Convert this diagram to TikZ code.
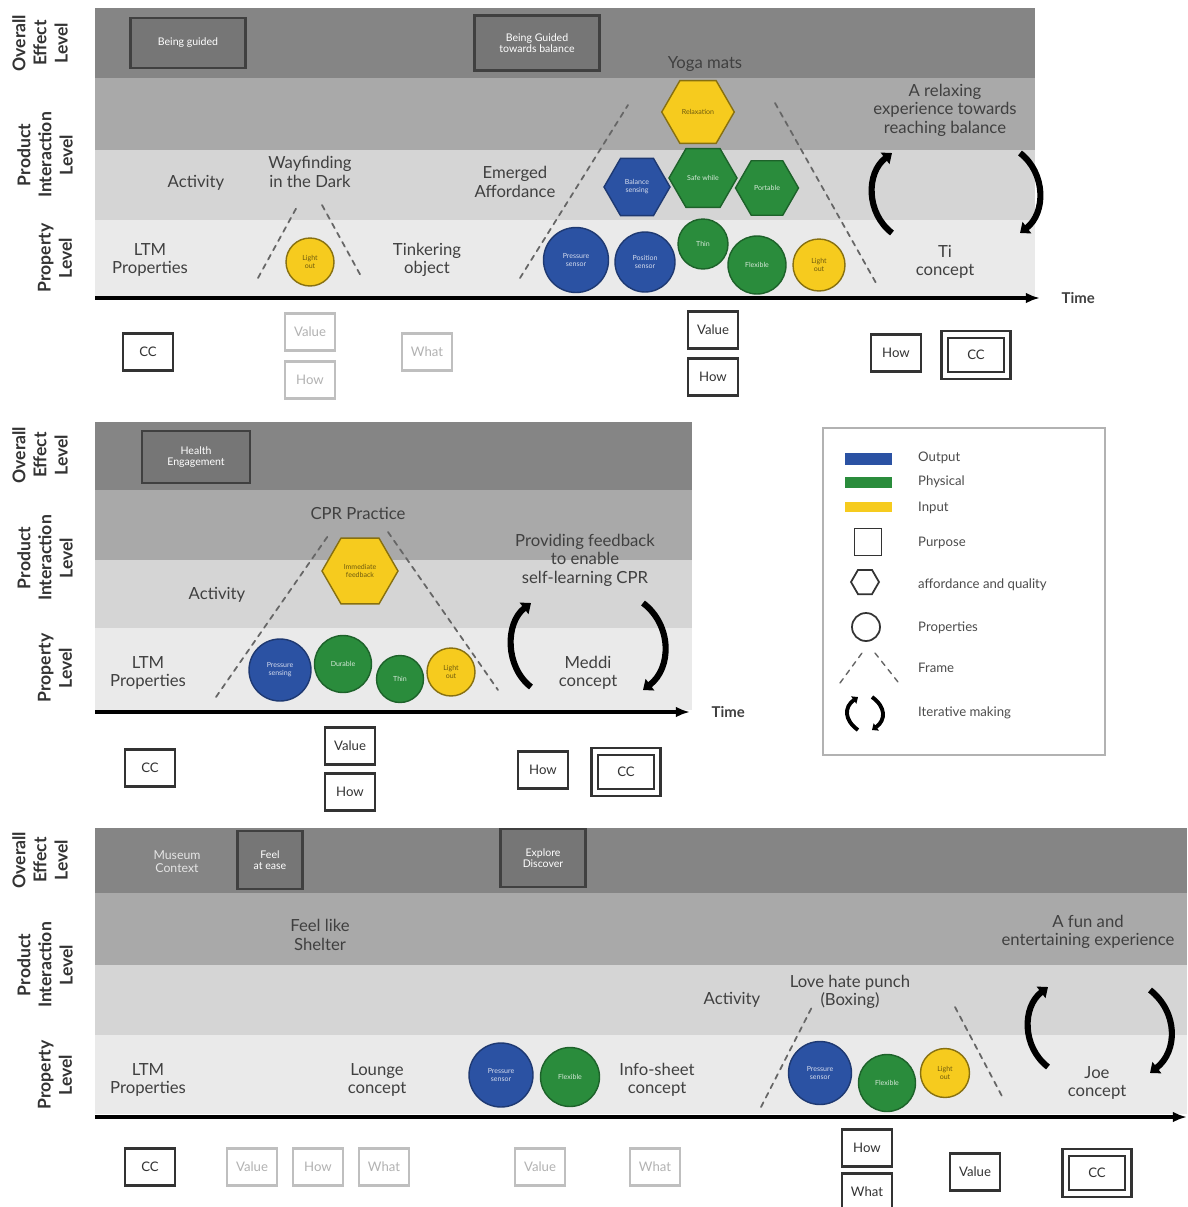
\documentclass[tikz,border=0pt]{standalone}
\usepackage{fontspec}
\setmainfont{Lato}
\usepackage{tikz,tkz-euclide}
\usetikzlibrary{calc,shapes.geometric,arrows.meta}
\definecolor{outblue}{HTML}{2B52A3}
\definecolor{physgreen}{HTML}{2A8C3C}
\definecolor{inyellow}{HTML}{F6CB1E}
\definecolor{bandA}{HTML}{858585}
\definecolor{bandB}{HTML}{A9A9A9}
\definecolor{bandC}{HTML}{D5D5D5}
\definecolor{bandD}{HTML}{EAEAEA}
\definecolor{effgray}{HTML}{767676}

\begin{document}
\begin{tikzpicture}[x=0.02cm,y=-0.02cm,
	lvl/.style={rotate=90,align=center,font=\bfseries\fontsize{10}{12}\selectfont,text=black!80},
	lbl/.style={align=center,font=\fontsize{9.5}{10.5}\selectfont,text=black!75},
	effbox/.style={draw=black!75,line width=1.2pt,fill=effgray,text=white,align=center,font=\fontsize{6}{6.5}\selectfont},
	hexa/.style={regular polygon,regular polygon sides=6,draw,line width=0.8pt,align=center,inner sep=0pt,font=\fontsize{4}{4.5}\selectfont},
	prop/.style={circle,draw,line width=0.8pt,align=center,inner sep=0pt,font=\fontsize{4}{4.5}\selectfont},
	outp/.style={fill=outblue,draw=outblue!70!black,text=white!80!outblue},
	phys/.style={fill=physgreen,draw=physgreen!70!black,text=white!80!physgreen},
	inp/.style={fill=inyellow,draw=inyellow!55!black,text=black!55!inyellow},
	purp/.style={draw=black!80,line width=1.2pt,fill=white,minimum width=1cm,minimum height=0.74cm,inner sep=1pt,font=\fontsize{7.5}{8}\selectfont,text=black!80},
	purpl/.style={purp,draw=black!25,text=black!30},
	purpcc/.style={purp,double,double distance=2.5pt,minimum width=1.25cm,minimum height=0.82cm},
	frame/.style={dashed,draw=black!60,line width=1pt},
	iter/.style={line width=3.5pt,black,-{Triangle[length=5pt,width=8pt]}},
	itersm/.style={line width=2.2pt,black,-{Triangle[length=3pt,width=5pt]}},
	axis/.style={line width=2pt,black,-{Latex[length=8pt]}},
	legtxt/.style={anchor=west,font=\fontsize{7.5}{8}\selectfont,text=black!70}]
				\useasboundingbox (0,0) rectangle (1187,1207);
				% first case
				\fill[bandA] (95,8) rectangle (1035,78);
				\fill[bandB] (95,78) rectangle (1035,150);
				\fill[bandC] (95,150) rectangle (1035,220);
				\fill[bandD] (95,220) rectangle (1035,296);
				\node[lvl] (O_1) at (40,43) {Overall\\Effect\\Level};
				\node[lvl] (I_1) at (45,155) {Product\\Interaction\\Level};
				\node[lvl] (R_1) at (55,258) {Property\\Level};
				\node[effbox,minimum width=2.3cm,minimum height=1cm] (E_1) at (188,43) {Being guided};
				\node[effbox,minimum width=2.5cm,minimum height=1.1cm] (E_2) at (537,43) {Being Guided\\towards balance};
				\node[lbl] (A_1) at (196,183) {Activity};
				\node[lbl] (A_2) at (310,172) {Wayfinding\\in the Dark};
				\node[lbl] (M_1) at (150,260) {LTM\\Properties};
				\node[lbl] (K_1) at (427,260) {Tinkering\\object};
				\node[lbl] (A_3) at (515,182) {Emerged\\Affordance};
				\node[lbl] (A_4) at (705,64) {Yoga mats};
				\node[lbl] (X_1) at (945,110) {A relaxing\\experience towards\\reaching balance};
				\node[lbl] (K_2) at (945,262) {Ti\\concept};
				\node[prop,inp,minimum size=0.96cm] (P_1) at (310,262) {Light\\out};
				\node[hexa,inp,minimum size=1.45cm] (H_1) at (698,112) {Relaxation};
				\node[hexa,outp,minimum size=1.32cm] (H_2) at (637,187) {Balance\\sensing};
				\node[hexa,phys,minimum size=1.36cm] (H_3) at (703,178) {Safe while};
				\node[hexa,phys,minimum size=1.26cm] (H_4) at (767,188) {Portable};
				\node[prop,outp,minimum size=1.3cm] (P_2) at (576,260) {Pressure\\sensor};
				\node[prop,outp,minimum size=1.2cm] (P_3) at (645,262) {Position\\sensor};
				\node[prop,phys,minimum size=1cm] (P_4) at (703,244) {Thin};
				\node[prop,phys,minimum size=1.16cm] (P_5) at (757,265) {Flexible};
				\node[prop,inp,minimum size=1.04cm] (P_6) at (819,265) {Light\\out};
				\tkzDefPoint(258,278){W_1}
				\tkzDefPoint(298,205){W_2}
				\tkzDefPoint(322,205){W_3}
				\tkzDefPoint(362,278){W_4}
				\tkzDefPoint(520,278){Y_1}
				\tkzDefPoint(628,105){Y_2}
				\tkzDefPoint(775,103){Y_3}
				\tkzDefPoint(876,283){Y_4}
				\tkzDrawSegments[frame](W_1,W_2 W_3,W_4 Y_1,Y_2 Y_3,Y_4)
				\draw[iter] (892,233) .. controls (866,213) and (866,173) .. (892,153);
				\draw[iter] (1020,153) .. controls (1046,173) and (1046,213) .. (1020,233);
				\tkzDefPoint(95,298){T_1}
				\tkzDefPoint(1040,298){T_2}
				\draw[axis] (T_1) -- (T_2) node[right=8pt,font=\bfseries\fontsize{8.5}{9}\selectfont,text=black!75] (Z_1) {Time};
				\node[purp] (Q_1) at (148,352) {CC};
				\node[purpl] (Q_2) at (310,332) {Value};
				\node[purpl] (Q_3) at (310,380) {How};
				\node[purpl] (Q_4) at (427,352) {What};
				\node[purp] (Q_5) at (713,330) {Value};
				\node[purp] (Q_6) at (713,377) {How};
				\node[purp] (Q_7) at (896,353) {How};
				\node[purpcc] (Q_8) at (976,355) {CC};
				% second case
				\fill[bandA] (95,422) rectangle (692,490);
				\fill[bandB] (95,490) rectangle (692,560);
				\fill[bandC] (95,560) rectangle (692,628);
				\fill[bandD] (95,628) rectangle (692,710);
				\node[lvl] (O_2) at (40,455) {Overall\\Effect\\Level};
				\node[lvl] (I_2) at (45,558) {Product\\Interaction\\Level};
				\node[lvl] (R_2) at (55,668) {Property\\Level};
				\node[effbox,minimum width=2.16cm,minimum height=1.04cm] (E_3) at (196,457) {Health\\Engagement};
				\node[lbl] (A_5) at (358,513) {CPR Practice};
				\node[lbl] (A_6) at (217,595) {Activity};
				\node[lbl] (M_2) at (148,673) {LTM\\Properties};
				\node[lbl] (X_2) at (585,560) {Providing feedback\\to enable\\self-learning CPR};
				\node[lbl] (K_3) at (588,673) {Meddi\\concept};
				\node[hexa,inp,minimum size=1.52cm] (H_5) at (360,571) {Immediate\\feedback};
				\node[prop,outp,minimum size=1.24cm] (P_7) at (280,670) {Pressure\\sensing};
				\node[prop,phys,minimum size=1.14cm] (P_8) at (343,664) {Durable};
				\node[prop,phys,minimum size=0.94cm] (P_9) at (400,679) {Thin};
				\node[prop,inp,minimum size=0.96cm] (P_10) at (451,672) {Light\\out};
				\tkzDefPoint(216,697){C_1}
				\tkzDefPoint(330,533){C_2}
				\tkzDefPoint(388,532){C_3}
				\tkzDefPoint(498,690){C_4}
				\tkzDrawSegments[frame](C_1,C_2 C_3,C_4)
				\draw[iter] (531,687) .. controls (505,667) and (505,623) .. (531,603);
				\draw[iter] (643,603) .. controls (672,625) and (672,668) .. (643,690);
				\tkzDefPoint(95,712){T_3}
				\tkzDefPoint(690,712){T_4}
				\draw[axis] (T_3) -- (T_4) node[right=8pt,font=\bfseries\fontsize{8.5}{9}\selectfont,text=black!75] (Z_2) {Time};
				\node[purp] (Q_9) at (150,768) {CC};
				\node[purp] (Q_10) at (350,746) {Value};
				\node[purp] (Q_11) at (350,792) {How};
				\node[purp] (Q_12) at (543,770) {How};
				\node[purpcc] (Q_13) at (626,772) {CC};
				% legend
				\draw[black!30,line width=0.8pt] (823,428) rectangle (1105,755);
				\fill[outblue] (845,453) rectangle (892,465);
				\fill[physgreen] (845,477) rectangle (892,488);
				\fill[inyellow] (845,502) rectangle (892,512);
				\node[legtxt] (D_1) at (912,458) {Output};
				\node[legtxt] (D_2) at (912,482) {Physical};
				\node[legtxt] (D_3) at (912,508) {Input};
				\node[draw=black!80,line width=1pt,minimum size=0.54cm,inner sep=0pt] (S_1) at (868,542) {};
				\node[legtxt] (D_4) at (912,543) {Purpose};
				\node[regular polygon,regular polygon sides=6,draw=black!80,line width=1pt,minimum size=0.56cm,inner sep=0pt] (S_2) at (865,582) {};
				\node[legtxt] (D_5) at (912,585) {affordance and quality};
				\node[circle,draw=black!80,line width=1pt,minimum size=0.56cm,inner sep=0pt] (S_3) at (866,627) {};
				\node[legtxt] (D_6) at (912,628) {Properties};
				\tkzDefPoint(840,683){G_1}
				\tkzDefPoint(862,653){G_2}
				\tkzDefPoint(875,653){G_3}
				\tkzDefPoint(898,682){G_4}
				\tkzDrawSegments[frame,line width=0.8pt](G_1,G_2 G_3,G_4)
				\node[legtxt] (D_7) at (912,668) {Frame};
				\draw[itersm] (858,730) .. controls (844,720) and (844,707) .. (858,697);
				\draw[itersm] (872,697) .. controls (886,707) and (886,720) .. (872,730);
				\node[legtxt] (D_8) at (912,713) {Iterative making};
				% third case
				\fill[bandA] (95,828) rectangle (1187,893);
				\fill[bandB] (95,893) rectangle (1187,965);
				\fill[bandC] (95,965) rectangle (1187,1035);
				\fill[bandD] (95,1035) rectangle (1187,1114);
				\node[lvl] (O_3) at (40,860) {Overall\\Effect\\Level};
				\node[lvl] (I_3) at (45,965) {Product\\Interaction\\Level};
				\node[lvl] (R_3) at (55,1075) {Property\\Level};
				\node[align=center,text=white!90!black,font=\fontsize{7}{7.5}\selectfont] (N_1) at (177,862) {Museum\\Context};
				\node[effbox,minimum width=1.3cm,minimum height=1.16cm] (E_4) at (270,860) {Feel\\at ease};
				\node[effbox,minimum width=1.7cm,minimum height=1.16cm] (E_5) at (543,858) {Explore\\Discover};
				\node[lbl] (A_7) at (320,935) {Feel like\\Shelter};
				\node[lbl] (X_3) at (1088,932) {A fun and\\entertaining experience};
				\node[lbl] (A_8) at (732,1000) {Activity};
				\node[lbl] (A_9) at (850,992) {Love hate punch\\(Boxing)};
				\node[lbl] (M_3) at (148,1080) {LTM\\Properties};
				\node[lbl] (K_4) at (377,1080) {Lounge\\concept};
				\node[lbl] (K_5) at (657,1080) {Info-sheet\\concept};
				\node[lbl] (K_6) at (1097,1083) {Joe\\concept};
				\node[prop,outp,minimum size=1.28cm] (P_11) at (501,1075) {Pressure\\sensor};
				\node[prop,phys,minimum size=1.18cm] (P_12) at (570,1077) {Flexible};
				\node[prop,outp,minimum size=1.26cm] (P_13) at (820,1073) {Pressure\\sensor};
				\node[prop,phys,minimum size=1.14cm] (P_14) at (887,1083) {Flexible};
				\node[prop,inp,minimum size=0.98cm] (P_15) at (945,1073) {Light\\out};
				\tkzDefPoint(761,1107){L_1}
				\tkzDefPoint(812,1007){L_2}
				\tkzDefPoint(955,1007){L_3}
				\tkzDefPoint(1004,1100){L_4}
				\tkzDrawSegments[frame](L_1,L_2 L_3,L_4)
				\draw[iter] (1048,1067) .. controls (1022,1047) and (1022,1007) .. (1048,987);
				\draw[iter] (1150,990) .. controls (1178,1012) and (1178,1051) .. (1150,1073);
				\tkzDefPoint(95,1117){T_5}
				\tkzDefPoint(1187,1117){T_6}
				\draw[axis] (T_5) -- (T_6);
				\node[purp] (Q_14) at (150,1167) {CC};
				\node[purpl] (Q_15) at (252,1167) {Value};
				\node[purpl] (Q_16) at (318,1167) {How};
				\node[purpl] (Q_17) at (384,1167) {What};
				\node[purpl] (Q_18) at (540,1167) {Value};
				\node[purpl] (Q_19) at (655,1167) {What};
				\node[purp] (Q_20) at (867,1148) {How};
				\node[purp] (Q_21) at (867,1192) {What};
				\node[purp] (Q_22) at (975,1172) {Value};
				\node[purpcc] (Q_23) at (1097,1173) {CC};
\end{tikzpicture}
\end{document}
